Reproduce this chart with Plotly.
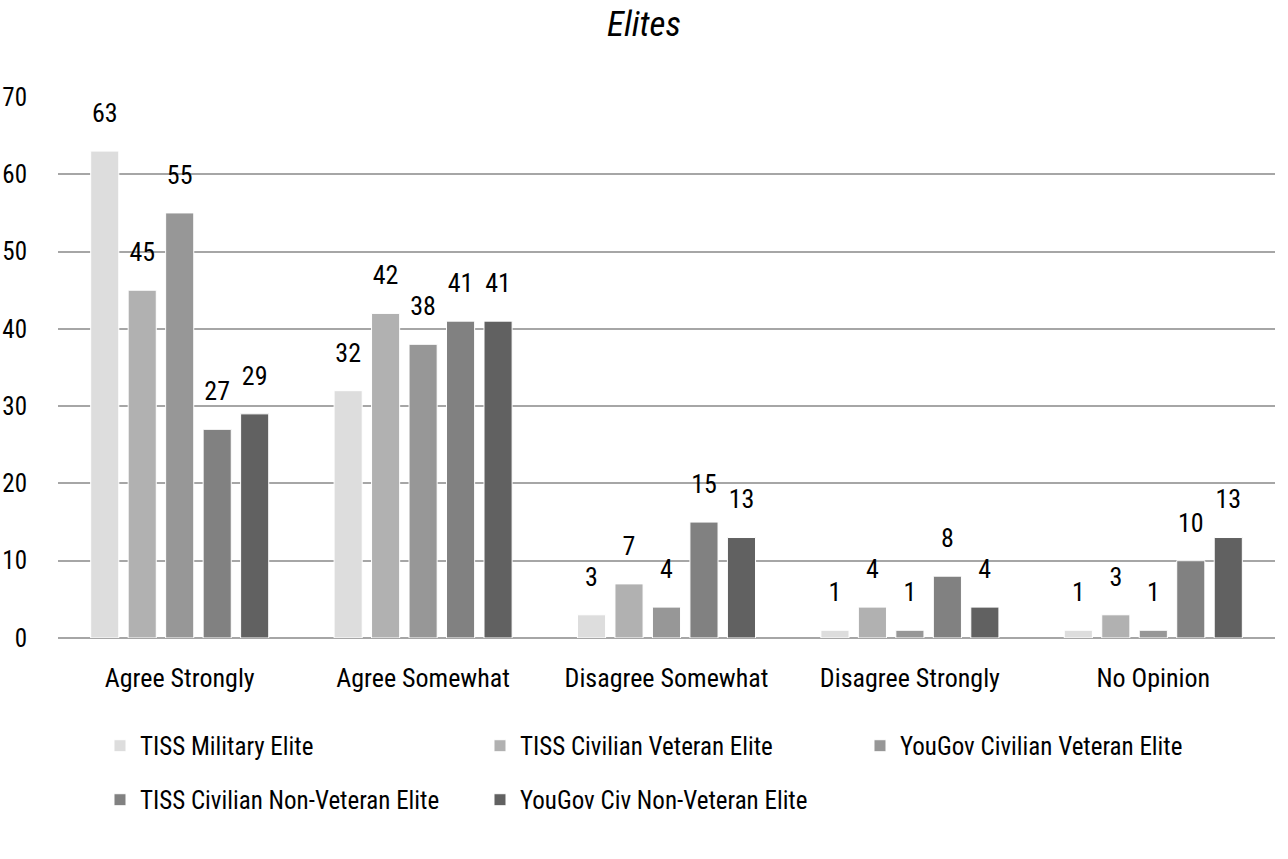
import plotly.graph_objects as go

categories = ["Agree Strongly", "Agree Somewhat", "Disagree Somewhat", "Disagree Strongly", "No Opinion"]
series_names = ["TISS Military Elite", "TISS Civilian Veteran Elite", "YouGov Civilian Veteran Elite",
                "TISS Civilian Non-Veteran Elite", "YouGov Civ Non-Veteran Elite"]
tiss_military = [63, 32, 3, 1, 1]
tiss_civ_vet = [45, 42, 7, 4, 3]
yougov_civ_vet = [55, 38, 4, 1, 1]
tiss_civ_nonvet = [27, 41, 15, 8, 10]
yougov_civ_nonvet = [29, 41, 13, 4, 13]
colors = ["#DDDDDD", "#B1B1B1", "#979797", "#818181", "#616161"]
legend_ids = ["legend", "legend", "legend", "legend2", "legend2"]
y_ticks = [0, 10, 20, 30, 40, 50, 60, 70]

FONT = "Roboto Condensed, Roboto, sans-serif"

fig = go.Figure()
for name, vals, col, lg in zip(series_names,
                               [tiss_military, tiss_civ_vet, yougov_civ_vet, tiss_civ_nonvet, yougov_civ_nonvet],
                               colors, legend_ids):
    fig.add_trace(go.Bar(
        x=categories, y=vals, name=name, legend=lg,
        marker=dict(color=col, line=dict(color="white", width=1)),
        text=[f"<span style='font-size:26px'>{v}</span><br> " for v in vals], textposition="outside",
        textfont=dict(size=17, color="black", family=FONT),
        constraintext="none", cliponaxis=False,
    ))

legend_common = dict(orientation="h", xanchor="left", yanchor="middle",
                     entrywidth=335, entrywidthmode="pixels",
                     font=dict(size=25, family=FONT, color="black"),
                     traceorder="normal", itemwidth=30, bgcolor="rgba(0,0,0,0)")

fig.update_layout(
    width=1288, height=859,
    paper_bgcolor="white", plot_bgcolor="white",
    font=dict(family=FONT, color="black", size=26),
    title=dict(text="<i>Elites</i>", x=0.5, xanchor="center", y=0.972, yanchor="middle",
               font=dict(size=35, family=FONT, color="black")),
    margin=dict(l=58, r=13, t=97, b=221, autoexpand=False),
    barmode="group", bargap=0.23, bargroupgap=0.25,
    showlegend=True,
    legend=dict(x=0.0345, y=-0.1996, **legend_common),
    legend2=dict(x=0.0345, y=-0.2994, **legend_common),
)
fig.update_yaxes(range=[0, 70], tickvals=y_ticks, showgrid=True, gridcolor="#A6A6A6", gridwidth=1.5,
                 zeroline=True, zerolinecolor="#A6A6A6", zerolinewidth=1.5, automargin=False,
                 ticklabelstandoff=30, tickfont=dict(size=25), showline=False)
fig.update_xaxes(showline=False, tickfont=dict(size=26), ticks="", ticklabelstandoff=22, automargin=False)

fig.write_html("out.html", config={"displayModeBar": False},
               post_script="document.body.style.margin='0';")
